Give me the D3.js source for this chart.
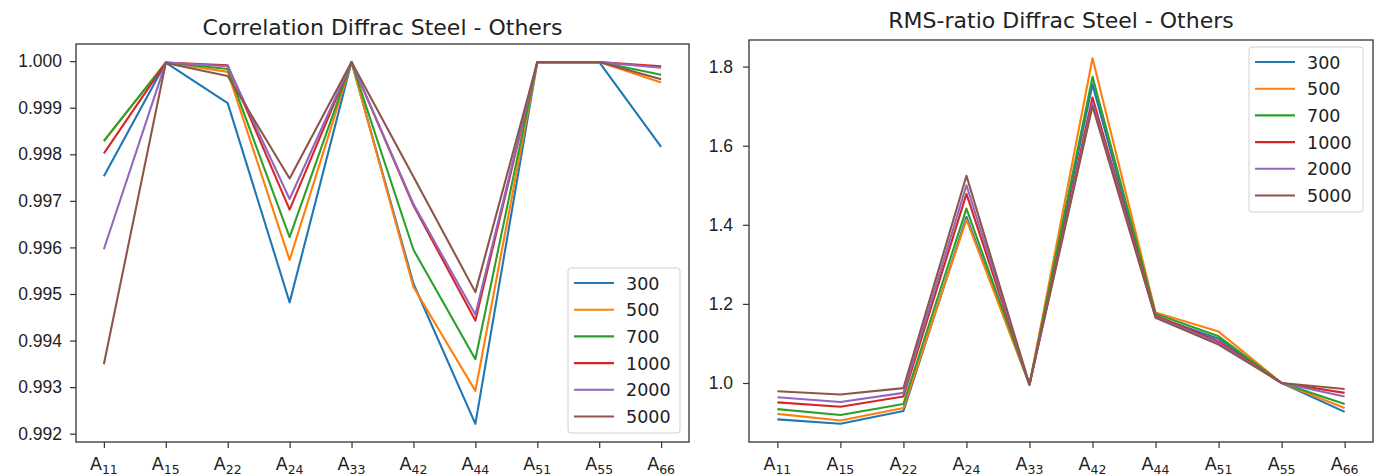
<!DOCTYPE html>
<html>
<head>
<meta charset="utf-8">
<script src="https://cdn.jsdelivr.net/npm/d3@7"></script>
<style>
  body { margin: 0; background: #fff; }
  svg { font-family: "DejaVu Sans", sans-serif; }
</style>
</head>
<body>
<div id="chart"></div>
<script>
// categories (x) and series
const components = ["11", "15", "22", "24", "33", "42", "44", "51", "55", "66"];
const seriesNames = ["300", "500", "700", "1000", "2000", "5000"];
const colors = ["#1f77b4", "#ff7f0e", "#2ca02c", "#d62728", "#9467bd", "#8c564b"];

// Correlation values per series
const corr300  = [0.99753, 0.99997, 0.99910, 0.99482, 0.99998, 0.99522, 0.99221, 0.99998, 0.99998, 0.99816];
const corr500  = [0.99828, 0.99997, 0.99977, 0.99573, 0.99998, 0.99515, 0.99292, 0.99998, 0.99998, 0.99954];
const corr700  = [0.99829, 0.99997, 0.99983, 0.99622, 0.99998, 0.99595, 0.99360, 0.99998, 0.99998, 0.99971];
const corr1000 = [0.99802, 0.99997, 0.99991, 0.99681, 0.99998, 0.99690, 0.99443, 0.99998, 0.99998, 0.99989];
const corr2000 = [0.99596, 0.99997, 0.99989, 0.99704, 0.99998, 0.99693, 0.99456, 0.99998, 0.99998, 0.99986];
const corr5000 = [0.99349, 0.99996, 0.99968, 0.99748, 0.99998, 0.99752, 0.99504, 0.99998, 0.99998, 0.99961];

// RMS-ratio values per series
const rms300  = [0.908, 0.897, 0.929, 1.420, 0.996, 1.755, 1.168, 1.112, 1.000, 0.927];
const rms500  = [0.922, 0.905, 0.937, 1.413, 0.996, 1.821, 1.178, 1.130, 1.000, 0.937];
const rms700  = [0.934, 0.919, 0.947, 1.441, 0.996, 1.774, 1.175, 1.118, 1.000, 0.947];
const rms1000 = [0.951, 0.940, 0.966, 1.478, 0.996, 1.722, 1.170, 1.105, 1.000, 0.975];
const rms2000 = [0.964, 0.952, 0.975, 1.500, 0.996, 1.708, 1.167, 1.101, 1.000, 0.966];
const rms5000 = [0.979, 0.971, 0.987, 1.524, 0.996, 1.700, 1.165, 1.097, 1.000, 0.985];

const corrTicks = [0.992, 0.993, 0.994, 0.995, 0.996, 0.997, 0.998, 0.999, 1.000];
const rmsTicks = [1.0, 1.2, 1.4, 1.6, 1.8];

const width = 1377, height = 476;
const svg = d3.select("#chart").append("svg")
  .attr("width", width).attr("height", height);

function drawPanel(opt) {
  const { left, right, top, bottom, title, titleY, data, ticks, fmt, legend, yPad } = opt;
  const g = svg.append("g");

  const x = d3.scalePoint().domain(components).range([0, 1]);
  // matplotlib-style 5% margins
  const xs = d3.scaleLinear()
    .domain([-0.05, 1.05])
    .range([left, right]);
  const all = data.flat();
  const [lo, hi] = d3.extent(all);
  const pad = (hi - lo) * 0.05;
  const y = d3.scaleLinear().domain([lo - pad, hi + pad]).range([bottom, top]);

  const line = d3.line()
    .x((d, i) => xs(x(components[i])))
    .y(d => y(d));

  g.selectAll("path.series")
    .data(data)
    .join("path")
    .attr("class", "series")
    .attr("fill", "none")
    .attr("stroke", (d, i) => colors[i])
    .attr("stroke-width", 2.1)
    .attr("stroke-linejoin", "round")
    .attr("d", line);

  // y axis
  const yAxis = g.append("g")
    .attr("transform", `translate(${left},0)`)
    .call(d3.axisLeft(y).tickValues(ticks).tickFormat(fmt).tickSize(6).tickPadding(yPad));
  yAxis.select(".domain").remove();
  yAxis.selectAll("line").attr("stroke", "#333").attr("stroke-width", 1.2);
  yAxis.selectAll("text").attr("font-size", 17.5).attr("fill", "#222");

  // x axis with subscript labels
  const xAxis = g.append("g")
    .attr("transform", `translate(0,${bottom})`)
    .call(d3.axisBottom(xs).tickValues(components.map(c => x(c))).tickFormat("").tickSize(6));
  xAxis.select(".domain").remove();
  xAxis.selectAll("line").attr("stroke", "#333").attr("stroke-width", 1.2);
  components.forEach(c => {
    const t = g.append("text")
      .attr("x", xs(x(c)))
      .attr("y", bottom + 28)
      .attr("text-anchor", "middle")
      .attr("fill", "#222")
      .attr("font-size", 17.5);
    t.append("tspan").text("A");
    t.append("tspan").attr("font-size", 12.5).attr("dy", 4).text(c);
  });

  // frame
  g.append("rect")
    .attr("x", left).attr("y", top)
    .attr("width", right - left).attr("height", bottom - top)
    .attr("fill", "none").attr("stroke", "#333").attr("stroke-width", 1.3);

  // title
  g.append("text")
    .attr("x", (left + right) / 2).attr("y", titleY)
    .attr("text-anchor", "middle").attr("font-size", 22).attr("fill", "#222")
    .text(title);

  // legend
  const lg = g.append("g").attr("transform", `translate(${legend.x},${legend.y})`);
  lg.append("rect")
    .attr("width", legend.w).attr("height", 165)
    .attr("rx", 3)
    .attr("fill", "#fff").attr("fill-opacity", 0.85)
    .attr("stroke", "#d0d0d0");
  seriesNames.forEach((s, i) => {
    const row = lg.append("g").attr("transform", `translate(0,${15 + i * 26.7})`);
    row.append("line")
      .attr("x1", 6).attr("x2", 46)
      .attr("stroke", colors[i]).attr("stroke-width", 2.1);
    row.append("text")
      .attr("x", 58).attr("y", 6.5)
      .attr("font-size", 17.5).attr("fill", "#222")
      .text(s);
  });
}

drawPanel({
  left: 76, right: 689, top: 44, bottom: 442,
  title: "Correlation Diffrac Steel - Others", titleY: 35,
  data: [corr300, corr500, corr700, corr1000, corr2000, corr5000],
  ticks: corrTicks, fmt: d3.format(".3f"), yPad: 8,
  legend: { x: 568, y: 268, w: 112 }
});

drawPanel({
  left: 749, right: 1373, top: 40, bottom: 442,
  title: "RMS-ratio Diffrac Steel - Others", titleY: 28,
  data: [rms300, rms500, rms700, rms1000, rms2000, rms5000],
  ticks: rmsTicks, fmt: d3.format(".1f"), yPad: 10,
  legend: { x: 1249, y: 47, w: 114 }
});
</script>
</body>
</html>
